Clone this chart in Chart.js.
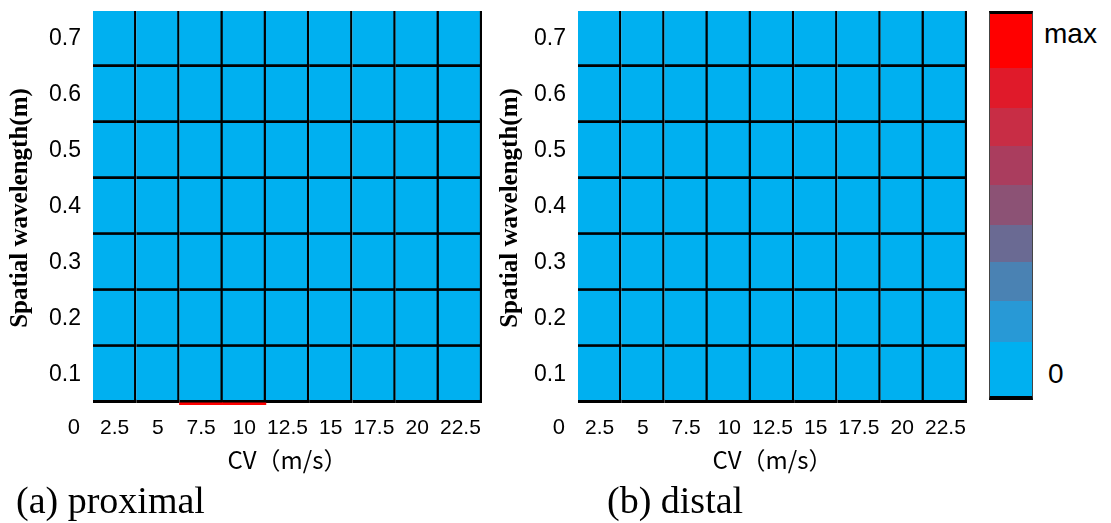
<!DOCTYPE html>
<html>
<head>
<meta charset="utf-8">
<script src="https://cdn.jsdelivr.net/npm/chart.js@4.4.1/dist/chart.umd.min.js"></script>
<style>
  body { margin: 0; background: #fff; width: 1111px; height: 523px; position: relative; overflow: hidden; font-family: 'Liberation Sans', Arial, sans-serif; }
  canvas.panel { position: absolute; top: 0; }
  #colorbar { position: absolute; left: 989px; top: 11px; width: 44px; height: 389px; box-sizing: border-box;
              display: flex; flex-direction: column; border-top: 3px solid #000; border-bottom: 4px solid #000;
              border-left: 1px solid #444; border-right: 1px solid #444; }
  #colorbar div { flex: 1 1 0; }
  .cblabel { position: absolute; font-size: 28px; line-height: 28px; color: #000; }
  .caption { position: absolute; top: 479px; font-family: 'Liberation Serif', serif; font-size: 38px; line-height: 42px; color: #000; }
</style>
</head>
<body>
<canvas id="proximal" class="panel" width="490" height="480" style="left:0px"></canvas>
<canvas id="distal" class="panel" width="490" height="480" style="left:490px"></canvas>
<div id="colorbar"></div>
<div class="cblabel" style="left:1044px; top:20px;">max</div>
<div class="cblabel" style="left:1048px; top:360px;">0</div>
<div class="caption" style="left:16px;">(a) proximal</div>
<div class="caption" style="left:607px;">(b) distal</div>
<script>
// categories
const cvLabels = ['2.5', '5', '7.5', '10', '12.5', '15', '17.5', '20', '22.5'];
const wavelengths = [0.1, 0.2, 0.3, 0.4, 0.5, 0.6, 0.7];

// levels 0 (=0) .. 1 (=max), one row per wavelength, bottom row first
const proximalLevels = [
    [0, 0, 0, 0, 0, 0, 0, 0, 0],
    [0, 0, 0, 0, 0, 0, 0, 0, 0],
    [0, 0, 0, 0, 0, 0, 0, 0, 0],
    [0, 0, 0, 0, 0, 0, 0, 0, 0],
    [0, 0, 0, 0, 0, 0, 0, 0, 0],
    [0, 0, 0, 0, 0, 0, 0, 0, 0],
    [0, 0, 0, 0, 0, 0, 0, 0, 0]
];
// the thin strip at wavelength 0
const proximalBase = [0, 0, 1, 1, 0, 0, 0, 0, 0];

const distalLevels = [
    [0, 0, 0, 0, 0, 0, 0, 0, 0],
    [0, 0, 0, 0, 0, 0, 0, 0, 0],
    [0, 0, 0, 0, 0, 0, 0, 0, 0],
    [0, 0, 0, 0, 0, 0, 0, 0, 0],
    [0, 0, 0, 0, 0, 0, 0, 0, 0],
    [0, 0, 0, 0, 0, 0, 0, 0, 0],
    [0, 0, 0, 0, 0, 0, 0, 0, 0]
];
const distalBase = [0, 0, 0, 0, 0, 0, 0, 0, 0];

// colour scale, from 0 up to max
const levelColors = ['#00B0F0', '#2899D6', '#4A82B3', '#6A6A93', '#8C5275', '#AA3D5E', '#C82D45', '#E01A2A', '#FF0000'];
// legend segment sizes (top to bottom) as drawn in the picture
const legendFlex = [55, 40, 38, 40, 40, 38, 39, 41, 55];

let colorOf = (v) => levelColors[Math.round(v * (levelColors.length - 1))];

const stripDepth = 0.004;

let cornerZero = {
    id: 'cornerZero',
    afterDraw(chart) {
        let ctx = chart.ctx;
        ctx.save();
        ctx.font = '22px "Liberation Sans"';
        ctx.fillStyle = '#000';
        ctx.textAlign = 'right';
        ctx.textBaseline = 'middle';
        ctx.fillText('0', chart.chartArea.left - 13, chart.chartArea.bottom + 23);
        ctx.restore();
    }
};

function makePanel(id, levels, base, axisWidth, rightPad) {
    let datasets = wavelengths.map((w, r) => ({
        data: cvLabels.map(() => [w - 0.1, w]),
        backgroundColor: levels[r].map(colorOf),
        borderColor: '#000',
        borderWidth: { top: 0, left: 0, right: 2.5, bottom: 3 },
        borderSkipped: false
    }));
    datasets.unshift({
        data: base.map(v => v > 0 ? [-stripDepth, 0] : null),
        backgroundColor: base.map(colorOf),
        borderWidth: 0
    });

    return new Chart(document.getElementById(id), {
        type: 'bar',
        data: { labels: cvLabels, datasets: datasets },
        plugins: [cornerZero],
        options: {
            responsive: false,
            animation: false,
            layout: { padding: { top: 11, right: rightPad, left: 0, bottom: 0 } },
            plugins: { legend: { display: false }, tooltip: { enabled: false } },
            datasets: { bar: { barPercentage: 1, categoryPercentage: 1 } },
            scales: {
                x: {
                    stacked: true,
                    grid: { display: false, drawTicks: false },
                    border: { display: false },
                    ticks: { color: '#000', font: { family: 'Liberation Sans', size: 21 }, padding: 11, autoSkip: false, maxRotation: 0 },
                    title: { display: true, text: 'CV（m/s）', color: '#000', font: { family: 'Noto Sans CJK JP', size: 24 }, padding: { top: 0, bottom: 6 } },
                    afterFit: (scale) => { scale.height = 75; scale.paddingLeft = 0; scale.paddingRight = 0; }
                },
                y: {
                    min: -stripDepth,
                    max: 0.7,
                    grid: { display: false, drawTicks: false },
                    border: { display: false },
                    afterBuildTicks: (scale) => { scale.ticks = wavelengths.map(w => ({ value: w - 0.05 })); },
                    ticks: { color: '#000', font: { family: 'Liberation Sans', size: 23 }, padding: 12, autoSkip: false,
                             callback: (v, i) => wavelengths[i].toFixed(1) },
                    title: { display: true, text: 'Spatial wavelength(m)', color: '#000', font: { family: 'Liberation Serif', size: 25, weight: 'bold' }, padding: { top: 6, bottom: 0 } },
                    afterFit: (scale) => { scale.width = axisWidth; scale.paddingTop = 0; scale.paddingBottom = 0; }
                }
            }
        }
    });
}

makePanel('proximal', proximalLevels, proximalBase, 93, 8);
makePanel('distal', distalLevels, distalBase, 88, 13);

// colour bar legend, max at the top
let bar = document.getElementById('colorbar');
levelColors.slice().reverse().forEach((c, i) => {
    let seg = document.createElement('div');
    seg.style.background = c;
    seg.style.flex = legendFlex[i] + ' 1 0';
    bar.appendChild(seg);
});
</script>
</body>
</html>
